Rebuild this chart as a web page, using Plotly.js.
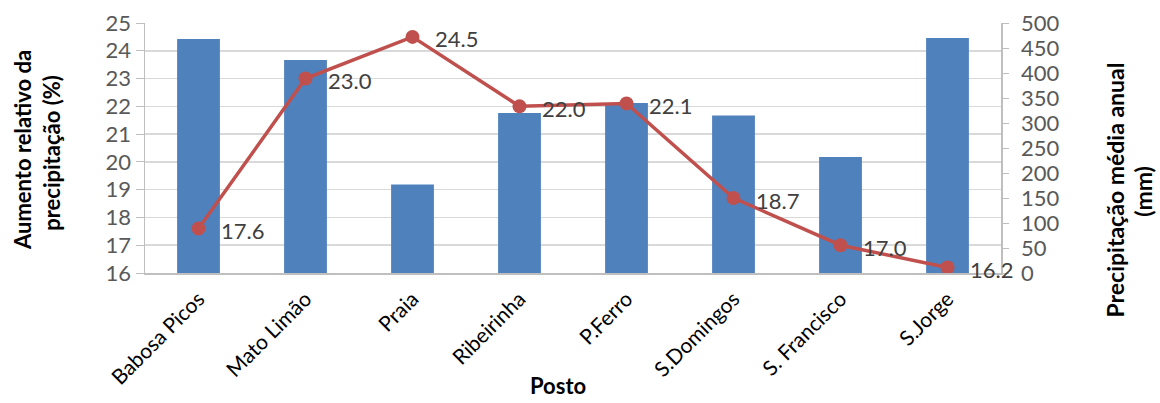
<!DOCTYPE html>
<html>
<head>
<meta charset="utf-8">
<script src="https://cdn.plot.ly/plotly-3.0.1.min.js"></script>
<style>html,body{margin:0;padding:0;background:#fff;}#chart{width:1160px;height:403px;}</style>
</head>
<body>
<div id="chart"></div>
<script>
var postos = ["Babosa Picos", "Mato Limão", "Praia", "Ribeirinha", "P.Ferro", "S.Domingos", "S. Francisco", "S.Jorge"];
var precipitacaoMedia = [468, 426, 177, 320, 340, 315, 232, 470];
var aumentoRelativo = [17.6, 23.0, 24.5, 22.0, 22.1, 18.7, 17.0, 16.2];
var aumentoLabels = aumentoRelativo.map(function(v){ return v.toFixed(1); });
var tituloEsquerdo = ["Aumento relativo da", "precipitação (%)"];
var tituloDireito = ["Precipitação média anual", "(mm)"];
var tituloX = "Posto";

var FONT = "Lato, 'Liberation Sans', sans-serif";

var bars = {
  type: "bar",
  x: postos,
  y: precipitacaoMedia,
  yaxis: "y",
  marker: {color: "#4F81BD"},
  width: 0.4,
  hoverinfo: "x+y",
  showlegend: false
};
var line = {
  type: "scatter",
  mode: "lines+markers",
  x: postos,
  y: aumentoRelativo,
  yaxis: "y2",
  line: {color: "#C0504D", width: 3.5},
  marker: {color: "#C0504D", size: 14},
  cliponaxis: false,
  showlegend: false
};

var annotations = postos.map(function(p, i){
  return {
    x: p, y: aumentoRelativo[i], xref: "x", yref: "y2",
    text: aumentoLabels[i], showarrow: false,
    xanchor: "left", yanchor: "middle", xshift: 20, yshift: -2,
    font: {family: FONT, size: 22, color: "#404040"}
  };
});

function titleAnn(text, x, y, angle, size) {
  return {
    xref: "paper", yref: "paper", x: x, y: y,
    xanchor: "center", yanchor: "middle",
    text: "<b>" + text + "</b>", textangle: angle, showarrow: false,
    font: {family: FONT, size: size, color: "#000"}
  };
}
annotations.push(titleAnn(tituloEsquerdo[0], -0.1437, 0.492, -90, 22));
annotations.push(titleAnn(tituloEsquerdo[1], -0.110, 0.48, -90, 22));
annotations.push(titleAnn(tituloDireito[0], 1.1332, 0.33, -90, 23));
annotations.push(titleAnn(tituloDireito[1], 1.1659, 0.325, -90, 23));
annotations.push(titleAnn(tituloX, 0.4825, -0.448, 0, 22));

var layout = {
  width: 1160, height: 403,
  margin: {l: 145, r: 159, t: 23, b: 130, autoexpand: false},
  paper_bgcolor: "#fff", plot_bgcolor: "#fff",
  font: {family: FONT, color: "#595959"},
  xaxis: {
    automargin: false,
    range: [-0.5, postos.length - 0.5],
    tickangle: -45,
    tickfont: {family: FONT, size: 21, color: "#000"},
    ticklabelstandoff: 4,
    showline: true, linecolor: "#BFBFBF", linewidth: 1.5,
    ticks: "", showgrid: false
  },
  yaxis: {
    automargin: false,
    side: "right",
    range: [0, 500], dtick: 50,
    showgrid: false, zeroline: false,
    showline: true, linecolor: "#BFBFBF", linewidth: 1.5,
    ticks: "outside", ticklen: 6, tickcolor: "#BFBFBF",
    ticklabelstandoff: 8,
    tickfont: {family: FONT, size: 22, color: "#595959"}
  },
  yaxis2: {
    automargin: false,
    side: "left", overlaying: "y",
    range: [16, 25], dtick: 1,
    showgrid: true, gridcolor: "#D9D9D9", gridwidth: 1.5, zeroline: false,
    showline: true, linecolor: "#BFBFBF", linewidth: 1.5,
    ticks: "outside", ticklen: 8, tickcolor: "#BFBFBF",
    tickfont: {family: FONT, size: 22, color: "#595959"}
  },
  annotations: annotations
};

Plotly.newPlot("chart", [bars, line], layout, {displayModeBar: false, staticPlot: true});
</script>
</body>
</html>
